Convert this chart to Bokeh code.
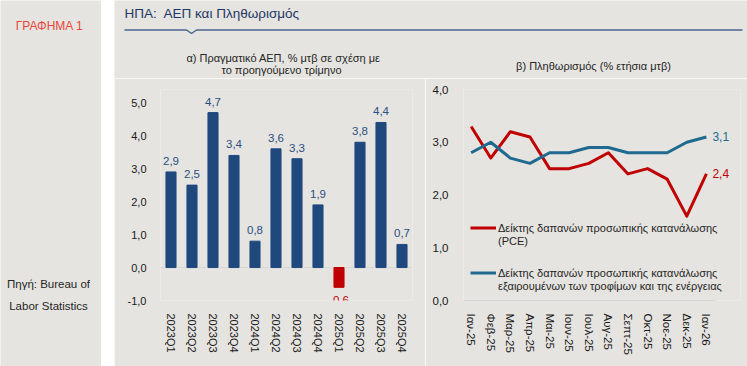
from bokeh.plotting import figure
from bokeh.models import (Range1d, FactorRange, FixedTicker, Span, Legend, LegendItem,
                          ColumnDataSource, Spacer)
from bokeh.layouts import row, column
from bokeh.embed import file_html
from bokeh.resources import INLINE
from bokeh.core.properties import value

# ---------------- data ----------------
quarters = ["2023Q1", "2023Q2", "2023Q3", "2023Q4", "2024Q1", "2024Q2",
            "2024Q3", "2024Q4", "2025Q1", "2025Q2", "2025Q3", "2025Q4"]
gdp = [2.9, 2.5, 4.7, 3.4, 0.8, 3.6, 3.3, 1.9, -0.6, 3.8, 4.4, 0.7]
gdp_ticks = [-1, 0, 1, 2, 3, 4, 5]

months = ["Ιαν-25", "Φεβ-25", "Μαρ-25", "Απρ-25", "Μαι-25", "Ιουν-25", "Ιουλ-25",
          "Αυγ-25", "Σεπτ-25", "Οκτ-25", "Νοε-25", "Δεκ-25", "Ιαν-26"]
pce = [3.3, 2.7, 3.2, 3.1, 2.5, 2.5, 2.6, 2.8, 2.4, 2.5, 2.3, 1.6, 2.4]
core_pce = [2.8, 3.0, 2.7, 2.6, 2.8, 2.8, 2.9, 2.9, 2.8, 2.8, 2.8, 3.0, 3.1]
infl_ticks = [0, 1, 2, 3, 4]

pce_label = ["Δείκτης δαπανών προσωπικής κατανάλωσης", "(PCE)"]
core_label = ["Δείκτης δαπανών προσωπικής κατανάλωσης",
              "εξαιρουμένων των τροφίμων και της ενέργειας"]

main_title = "ΗΠΑ:\u00a0 ΑΕΠ και Πληθωρισμός"
chart_tag = "ΓΡΑΦΗΜΑ 1"
source_lines = ["Πηγή: Bureau of", "Labor Statistics"]
bar_title = ["α) Πραγματικό ΑΕΠ, % μτβ σε σχέση με", "το προηγούμενο τρίμηνο"]
line_title = "β) Πληθωρισμός (% ετήσια μτβ)"

# ---------------- style ----------------
FONT = "Liberation Sans"
BG = "#e5e4e0"
NAVY = "#1f497d"
RED = "#c00000"
TEAL = "#1f6a8e"
TXT = "#1a1a1a"
ZERO = "#d6d6d6"


def fmt(v):
    return f"{v:.1f}".replace(".", ",")


def panel(w, h, xr, yr):
    p = figure(width=w, height=h, x_range=Range1d(*xr), y_range=Range1d(*yr),
               output_backend="svg", toolbar_location=None,
               x_axis_location=None, y_axis_location=None, min_border=0)
    p.grid.visible = False
    p.outline_line_color = None
    p.background_fill_color = BG
    p.border_fill_color = BG
    return p


def txt(p, x, y, t, size, color, align="center"):
    p.text(x=x, y=y, text=t, text_font=value(FONT), text_font_size=size,
           text_color=color, text_align=align, text_baseline="middle")


# left gray panel (page px coords)
left = panel(101, 366, (0, 101), (366, 0))
txt(left, [49], [25], [chart_tag], "12px", "#e8473b")
txt(left, [48, 48], [283, 305], source_lines, "11.5px", "#262626")

# header (title + rule + subplot titles)
header = panel(633, 78, (114, 747), (78, 0))
txt(header, [124], [13], [main_title], "13.5px", "#1f3864", align="left")
header.line(x=[124, 186, 191, 196, 742], y=[29.5, 29.5, 33, 29.5, 29.5],
            line_color="#4a6690", line_width=1.5)
txt(header, [283, 281], [57, 69], bar_title, "11px", "#262626")
txt(header, [593], [65], [line_title], "11px", "#262626")

# ---------------- bar chart ----------------
bar = figure(width=311, height=288, x_range=FactorRange(*quarters),
             y_range=Range1d(-1, 5.4), output_backend="svg", toolbar_location=None,
             min_border_left=46, min_border_right=13, min_border_top=5,
             min_border_bottom=66)
bar.background_fill_color = BG
bar.border_fill_color = BG
bar.outline_line_color = None
bar.grid.visible = False

colors = [RED if v < 0 else NAVY for v in gdp]
src = ColumnDataSource(dict(q=quarters, v=gdp, c=colors))
bar.add_layout(Span(location=0, dimension="width", line_color=ZERO, line_width=1,
                    level="underlay"))
bar.vbar(x="q", top="v", width=0.48, color="c", source=src)

pos = ColumnDataSource(dict(q=[q for q, v in zip(quarters, gdp) if v >= 0],
                            v=[v for v in gdp if v >= 0],
                            lbl=[fmt(v) for v in gdp if v >= 0]))
neg = ColumnDataSource(dict(q=[q for q, v in zip(quarters, gdp) if v < 0],
                            v=[v for v in gdp if v < 0],
                            lbl=[fmt(v) for v in gdp if v < 0]))
bar.text(x="q", y="v", text="lbl", source=pos, y_offset=-11, text_align="center",
         text_baseline="middle", text_font=value(FONT), text_font_size="11.5px",
         text_color="#2b4f80")
bar.text(x="q", y="v", text="lbl", source=neg, y_offset=13, text_align="center",
         text_baseline="middle", text_font=value(FONT), text_font_size="11.5px",
         text_color=RED)

bar.yaxis.ticker = FixedTicker(ticks=gdp_ticks)
bar.yaxis.major_label_overrides = {t: fmt(t) for t in gdp_ticks}
for ax in (bar.xaxis, bar.yaxis):
    ax.axis_line_color = None
    ax.major_tick_line_color = None
    ax.minor_tick_line_color = None
    ax.major_label_text_font = FONT
    ax.major_label_text_font_size = "11px"
    ax.major_label_text_color = TXT
bar.yaxis.major_label_standoff = 8
bar.xaxis.major_label_orientation = "vertical"
bar.xaxis.major_label_standoff = 7

# ---------------- line chart ----------------
xs = list(range(len(months)))
ln = figure(width=322, height=288, x_range=Range1d(-0.39, 13.74),
            y_range=Range1d(0, 4), output_backend="svg", toolbar_location=None,
            min_border_left=38, min_border_right=7, min_border_top=11,
            min_border_bottom=63)
ln.background_fill_color = BG
ln.border_fill_color = BG
ln.outline_line_color = None
ln.grid.visible = False

r1 = ln.line(xs, pce, line_color=RED, line_width=3, line_join="round")
r2 = ln.line(xs, core_pce, line_color=TEAL, line_width=3, line_join="round")
# invisible companions carrying the second legend line of each series
r1b = ln.line(xs, pce, line_alpha=0)
r2b = ln.line(xs, core_pce, line_alpha=0)
ln.text(x=[xs[-1], xs[-1]], y=[pce[-1], core_pce[-1]],
        text=[fmt(pce[-1]), fmt(core_pce[-1])], x_offset=6,
        text_align="left", text_baseline="middle", text_font=value(FONT),
        text_font_size="12px", text_color=[RED, TEAL])

ln.xaxis.ticker = FixedTicker(ticks=xs)
ln.xaxis.major_label_overrides = {i: m for i, m in zip(xs, months)}
ln.xaxis.bounds = (-0.39, 12.46)
ln.xaxis.axis_line_color = ZERO
ln.yaxis.axis_line_color = None
ln.yaxis.ticker = FixedTicker(ticks=infl_ticks)
ln.yaxis.major_label_overrides = {t: fmt(t) for t in infl_ticks}
for ax in (ln.xaxis, ln.yaxis):
    ax.major_tick_line_color = None
    ax.minor_tick_line_color = None
    ax.major_label_text_font = FONT
    ax.major_label_text_font_size = "11.5px"
    ax.major_label_text_color = TXT
ln.yaxis.major_label_standoff = 9
ln.xaxis.major_label_orientation = "vertical"
ln.xaxis.major_label_standoff = 7


def make_legend(items, loc):
    return Legend(items=items, location=loc, padding=0, margin=0, spacing=0,
                  glyph_width=26, glyph_height=13, label_standoff=2,
                  border_line_color=None, background_fill_alpha=0,
                  label_text_font=FONT, label_text_font_size="11px",
                  label_text_color="#262626", label_height=13)


ln.add_layout(make_legend([LegendItem(label=pce_label[0], renderers=[r1]),
                           LegendItem(label=pce_label[1], renderers=[r1b])], (7, 53)))
ln.add_layout(make_legend([LegendItem(label=core_label[0], renderers=[r2]),
                           LegendItem(label=core_label[1], renderers=[r2b])], (7, 8)))

layout = row(left, Spacer(width=13, height=366),
             column(header, row(bar, ln)))

open("out.html", "w").write(file_html(layout, INLINE))
